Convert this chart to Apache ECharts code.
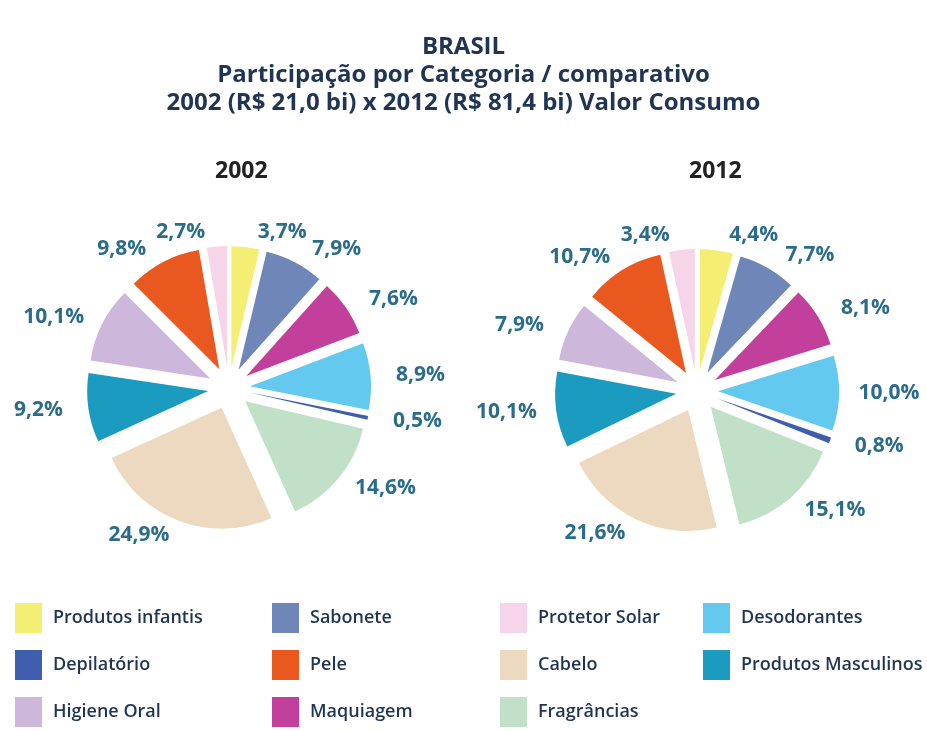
<!DOCTYPE html>
<html>
<head>
<meta charset="utf-8">
<script src="https://cdn.jsdelivr.net/npm/echarts@6/dist/echarts.min.js"></script>
<style>
  html, body { margin: 0; padding: 0; background: #fff; }
  #main { width: 927px; height: 731px; }
</style>
</head>
<body>
<div id="main"></div>
<script>
// categorias, na ordem horária a partir do topo
const categorias = ['Produtos infantis', 'Sabonete', 'Maquiagem', 'Desodorantes', 'Depilatório',
  'Fragrâncias', 'Cabelo', 'Produtos Masculinos', 'Higiene Oral', 'Pele', 'Protetor Solar']
const valores2002 = [3.7, 7.9, 7.6, 8.9, 0.5, 14.6, 24.9, 9.2, 10.1, 9.8, 2.7]
const valores2012 = [4.4, 7.7, 8.1, 10.0, 0.8, 15.1, 21.6, 10.1, 7.9, 10.7, 3.4]
const cores = ['#f4ef72', '#6e86b8', '#c23f9c', '#64c9ef', '#3f5fae',
  '#c0e1c7', '#edd9c0', '#1b9bc0', '#cdb8dc', '#e9591f', '#f5d5e7']

// colunas da legenda
const legendaCol1 = ['Produtos infantis', 'Depilatório', 'Higiene Oral']
const legendaCol2 = ['Sabonete', 'Pele', 'Maquiagem']
const legendaCol3 = ['Protetor Solar', 'Cabelo', 'Fragrâncias']
const legendaCol4 = ['Desodorantes', 'Produtos Masculinos']

const fonte = '"Open Sans", "DejaVu Sans", sans-serif'
const raio = 121
const deslocamento = 21

function montaDados (valores) {
  return categorias.map((nome, i) => {
    return { name: nome, value: valores[i], selected: true, itemStyle: { color: cores[i] } }
  })
}

// rótulo centrado fora da fatia, na direção do meio do ângulo
function posRotulo (valores, centro) {
  const total = valores.reduce((a, b) => a + b, 0)
  return function (params) {
    let acc = 0
    for (let i = 0; i < params.dataIndex; i++) acc += valores[i]
    const meio = (acc + valores[params.dataIndex] / 2) / total * 2 * Math.PI
    const dx = Math.sin(meio)
    const dy = -Math.cos(meio)
    const w = params.labelRect.width / 2
    const h = params.labelRect.height / 2
    const tx = Math.abs(dx) > 1e-6 ? w / Math.abs(dx) : Infinity
    const ty = Math.abs(dy) > 1e-6 ? h / Math.abs(dy) : Infinity
    const folga = 5 + 14 * Math.abs(dy)
    const d = raio + deslocamento + folga + Math.min(tx, ty)
    return {
      x: centro[0] + dx * d,
      y: centro[1] + dy * d,
      align: 'center',
      verticalAlign: 'middle',
      hideOverlap: false
    }
  }
}

function pizza (valores, centro) {
  return {
    type: 'pie',
    center: centro,
    radius: raio,
    startAngle: 90,
    clockwise: true,
    selectedMode: 'multiple',
    selectedOffset: deslocamento,
    avoidLabelOverlap: false,
    animation: false,
    label: {
      show: true,
      position: 'outside',
      color: '#2b6c8a',
      fontFamily: fonte,
      fontWeight: 'bold',
      fontSize: 21,
      formatter: (p) => p.value.toFixed(1).replace('.', ',') + '%'
    },
    labelLine: { show: false },
    labelLayout: posRotulo(valores, centro),
    emphasis: { disabled: true },
    data: montaDados(valores)
  }
}

function legenda (dados, left) {
  return {
    data: dados,
    orient: 'vertical',
    left: left,
    top: 603,
    height: 130,
    padding: 0,
    icon: 'rect',
    itemWidth: 27,
    itemHeight: 30,
    itemGap: 17,
    selectedMode: false,
    textStyle: { color: '#1f3553', fontFamily: fonte, fontWeight: 600, fontSize: 18, padding: [0, 0, 0, 6] }
  }
}

const option = {
  backgroundColor: '#fff',
  title: [
    {
      text: 'BRASIL\nParticipação por Categoria / comparativo\n2002 (R$ 21,0 bi) x 2012 (R$ 81,4 bi) Valor Consumo',
      left: 'center',
      top: 28,
      textStyle: { color: '#1f3553', fontFamily: fonte, fontWeight: 'bold', fontSize: 24, lineHeight: 28, align: 'center' }
    },
    {
      text: '2002',
      left: 210,
      top: 155,
      textStyle: { color: '#222', fontFamily: fonte, fontWeight: 'bold', fontSize: 23 }
    },
    {
      text: '2012',
      left: 684,
      top: 155,
      textStyle: { color: '#222', fontFamily: fonte, fontWeight: 'bold', fontSize: 23 }
    }
  ],
  legend: [
    legenda(legendaCol1, 15),
    legenda(legendaCol2, 272),
    legenda(legendaCol3, 500),
    legenda(legendaCol4, 703)
  ],
  series: [
    pizza(valores2002, [229, 388]),
    pizza(valores2012, [697, 391])
  ]
}

const myChart = echarts.init(document.getElementById('main'))
myChart.setOption(option)
</script>
</body>
</html>
